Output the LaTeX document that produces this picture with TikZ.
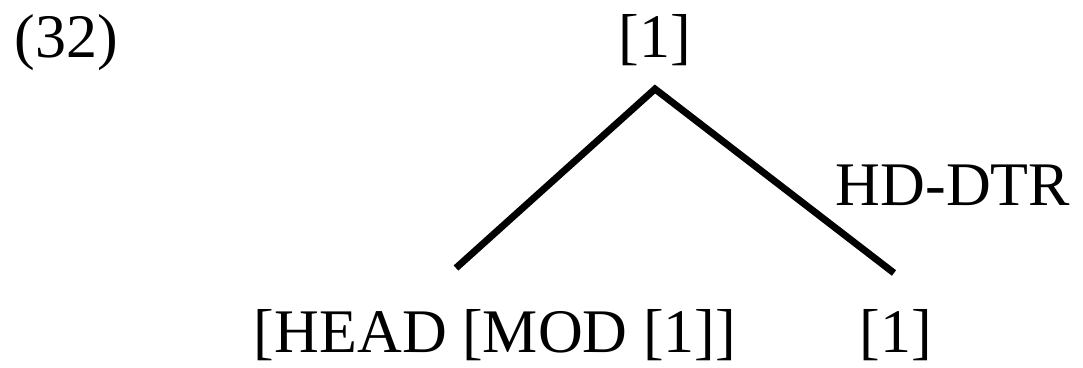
\documentclass[tikz,border=0pt]{standalone}
\usepackage{fontspec}
\setmainfont{Liberation Serif}
\tikzset{
  lbl/.style={inner sep=0pt, outer sep=0pt, font=\fontsize{46.5}{56}\selectfont, text=black},
  branch/.style={line width=5.2pt, black}
}
\begin{document}
\begin{tikzpicture}[x=0.75pt, y=-0.75pt]
\useasboundingbox (0,0) rectangle (1083,368);
\node[lbl, anchor=base west] (ex) at (15,57) {(32)};
\node[lbl, anchor=base] (top) at (655,57) {[1]};
\node[lbl, anchor=base] (hd) at (953,205) {HD-DTR};
\node[lbl, anchor=base] (left) at (495,352) {[HEAD [MOD [1]]};
\node[lbl, anchor=base] (right) at (896,352) {[1]};
\coordinate (apex) at (655,89);
\coordinate (lend) at (456,268);
\coordinate (rend) at (894,273);
\draw[branch] (lend) -- (apex) -- (rend);
\end{tikzpicture}
\end{document}
